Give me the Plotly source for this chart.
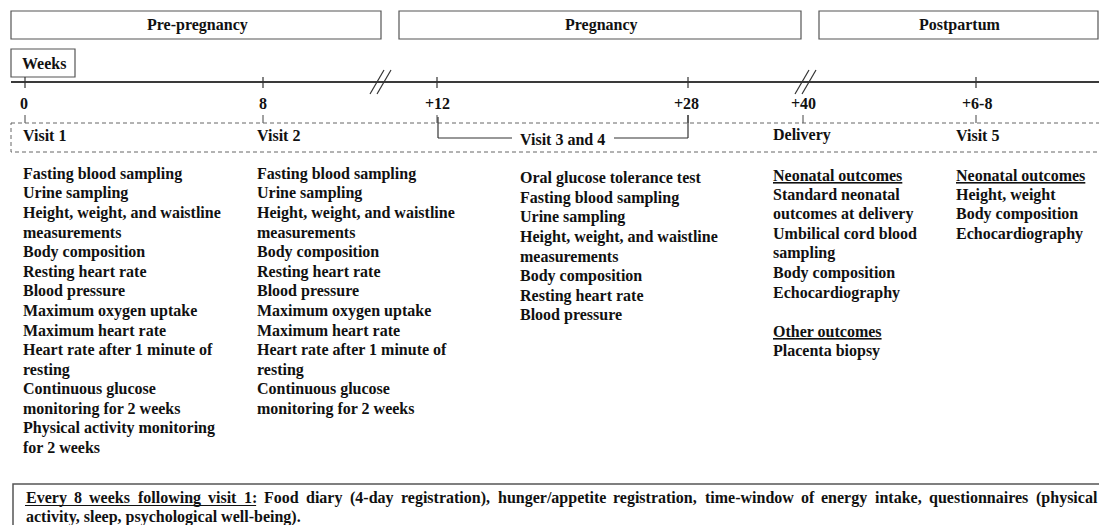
import plotly.graph_objects as go

# ---------------- data ----------------
phases = ["Pre-pregnancy", "Pregnancy", "Postpartum"]
axis_title = "Weeks"
tick_labels = ["0", "8", "+12", "+28", "+40", "+6-8"]
visit_labels = ["Visit 1", "Visit 2", "Visit 3 and 4", "Delivery", "Visit 5"]

visit1_items = [
    "Fasting blood sampling", "Urine sampling", "Height, weight, and waistline",
    "measurements", "Body composition", "Resting heart rate", "Blood pressure",
    "Maximum oxygen uptake", "Maximum heart rate", "Heart rate after 1 minute of",
    "resting", "Continuous glucose", "monitoring for 2 weeks",
    "Physical activity monitoring", "for 2 weeks",
]
visit2_items = [
    "Fasting blood sampling", "Urine sampling", "Height, weight, and waistline",
    "measurements", "Body composition", "Resting heart rate", "Blood pressure",
    "Maximum oxygen uptake", "Maximum heart rate", "Heart rate after 1 minute of",
    "resting", "Continuous glucose", "monitoring for 2 weeks",
]
visit34_items = [
    "Oral glucose tolerance test", "Fasting blood sampling", "Urine sampling",
    "Height, weight, and waistline", "measurements", "Body composition",
    "Resting heart rate", "Blood pressure",
]
delivery_items = [
    "<u>Neonatal outcomes</u>", "Standard neonatal", "outcomes at delivery",
    "Umbilical cord blood", "sampling", "Body composition", "Echocardiography",
    "", "<u>Other outcomes</u>", "Placenta biopsy",
]
visit5_items = [
    "<u>Neonatal outcomes</u>", "Height, weight", "Body composition", "Echocardiography",
]
footer_heading = "Every 8 weeks following visit 1:"
footer_line1 = ("Food diary (4-day registration), hunger/appetite registration, "
                "time-window of energy intake, questionnaires (physical")
footer_line2 = "activity, sleep, psychological well-being)."

# ---------------- layout constants ----------------
W, H = 1099, 525
FONT = "Liberation Serif, Times New Roman, serif"
TXT = "#111111"
FS = 16
phase_boxes = [(11, 381), (399, 801), (819, 1098)]
phase_y = (11, 39)
tick_x = [25, 263, 437, 688, 803, 976]
tick_label_x = [24, 263, 437, 686, 803, 977]
line_y = 82
dash_top, dash_bot = 123, 152
col_x = [22, 256, 519, 772, 955]
col_y0 = [173.5, 173.5, 178, 175, 175]
dy = 19.6

# Times-Bold advance widths (per 1000 em) for text justification
AFM = {" ": 250, "(": 333, ")": 333, ",": 250, "-": 333, ".": 250, "/": 278, ":": 333}
for c in "0123456789":
    AFM[c] = 500
AFM.update(dict(zip("ABCDEFGHIJKLMNOPQRSTUVWXYZ",
                    [722, 667, 722, 722, 667, 611, 778, 778, 389, 500, 778, 667, 944,
                     722, 778, 611, 778, 722, 556, 667, 722, 722, 1000, 722, 722, 667])))
AFM.update(dict(zip("abcdefghijklmnopqrstuvwxyz",
                    [500, 556, 444, 556, 444, 333, 500, 556, 278, 333, 556, 278, 833,
                     556, 500, 556, 556, 444, 389, 333, 556, 500, 722, 500, 500, 444])))

def text_w(s, size=FS):
    return sum(AFM.get(c, 500) for c in s) * size / 1000.0

fig = go.Figure()
shapes = []
ann = []

def add_text(x, y, t, anchor="left", size=FS):
    ann.append(dict(x=x, y=y, xref="x", yref="y", text="<b>" + t + "</b>" if t else "",
                    showarrow=False, xanchor=anchor, yanchor="middle",
                    font=dict(family=FONT, size=size, color=TXT), borderpad=0))

def line(x0, y0, x1, y1, color="#333333", width=1.2, dash=None):
    d = dict(type="line", x0=x0, y0=y0, x1=x1, y1=y1, xref="x", yref="y",
             line=dict(color=color, width=width))
    if dash:
        d["line"]["dash"] = dash
    shapes.append(d)

def rect(x0, y0, x1, y1, color="#555555", width=1.2, dash=None):
    d = dict(type="rect", x0=x0, y0=y0, x1=x1, y1=y1, xref="x", yref="y",
             line=dict(color=color, width=width), fillcolor="rgba(0,0,0,0)")
    if dash:
        d["line"]["dash"] = dash
    shapes.append(d)

# phase boxes
for (x0, x1), name in zip(phase_boxes, phases):
    rect(x0, phase_y[0], x1, phase_y[1])
    add_text((x0 + x1) / 2 + 1, 25, name, anchor="center")

# weeks box
rect(11, 49, 75, 77)
add_text(21, 63, axis_title)

# timeline
line(11, line_y, 1105, line_y, color="#3a3a3a", width=2)
for i, x in enumerate(tick_x):
    if tick_labels[i] != "+40":
        line(x, 77, x, 88, color="#333333", width=1.2)
# break marks
for bx in (381, 806):
    for off in (-4, 3):
        line(bx + off - 7, 94, bx + off + 7, 70, color="#333333", width=1.2)

# tick labels
for x, t in zip(tick_label_x, tick_labels):
    add_text(x, 103, t, anchor="center")

# connectors to dashed box
for x in tick_x:
    line(x, 115, x, dash_top, color="#444444", width=1)

# dashed box
rect(11, dash_top, 1110, dash_bot, color="#666666", width=1, dash="4px,3px")

# visit labels
add_text(col_x[0], 135, visit_labels[0])
add_text(col_x[1], 135, visit_labels[1])
add_text(562, 139, visit_labels[2], anchor="center")
add_text(col_x[3], 135, visit_labels[3])
add_text(col_x[4], 135, visit_labels[4])

# visit 3 and 4 bracket
line(438, 117, 438, 138, color="#333333", width=1.2)
line(688, 115, 688, 138, color="#333333", width=1.2)
line(438, 138, 512, 138, color="#333333", width=1.2)
line(614, 138, 688, 138, color="#333333", width=1.2)

# item columns
for cx, cy, items in zip(col_x, col_y0,
                         [visit1_items, visit2_items, visit34_items, delivery_items, visit5_items]):
    for i, t in enumerate(items):
        if t:
            add_text(cx, cy + i * dy, t)

# footer box
rect(13, 484, 1110, 545, color="#555555", width=1.5)
# justified first line
words = (footer_heading + " " + footer_line1).split(" ")
n_head = len(footer_heading.split(" "))
left, right = 25, 1096
total = sum(text_w(w) for w in words)
gap = (right - left - total) / (len(words) - 1)
x = left
head_end = left
for i, w in enumerate(words):
    add_text(x, 497.5, w)
    x_end = x + text_w(w)
    if i == n_head - 1:
        head_end = x_end
    x = x_end + gap
line(left, 505.5, head_end, 505.5, color=TXT, width=1.1)
add_text(left, 517, footer_line2)

fig.add_trace(go.Scatter(x=[0, W], y=[0, H], mode="markers",
                         marker=dict(opacity=0), hoverinfo="skip", showlegend=False))

fig.update_layout(
    width=W, height=H, margin=dict(l=0, r=0, t=0, b=0),
    paper_bgcolor="white", plot_bgcolor="white",
    xaxis=dict(range=[0, W], visible=False, fixedrange=True),
    yaxis=dict(range=[H, 0], visible=False, fixedrange=True),
    shapes=shapes, annotations=ann, showlegend=False,
)
fig.write_html(
    "out.html",
    config={"displayModeBar": False},
    post_script="document.body.style.margin='0';document.body.style.overflow='hidden';",
)
